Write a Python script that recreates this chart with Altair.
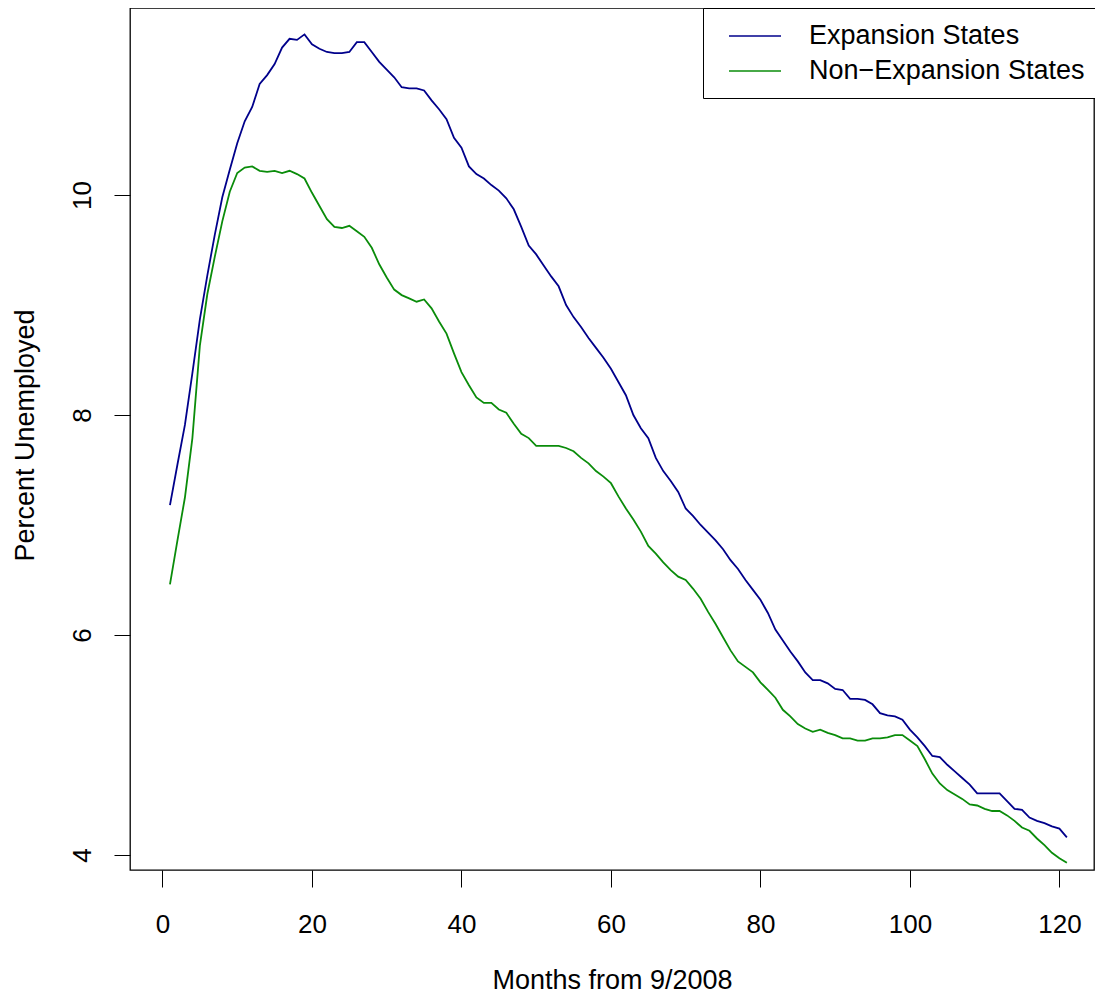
import altair as alt
import pandas as pd

months = list(range(1, 122))

expansion = [
    7.18, 7.55, 7.91, 8.38, 8.87, 9.27, 9.64, 9.98, 10.23, 10.47,
    10.67, 10.80, 11.01, 11.09, 11.19, 11.34, 11.42, 11.41, 11.46, 11.37,
    11.33, 11.30, 11.29, 11.29, 11.30, 11.39, 11.39, 11.30, 11.21, 11.14,
    11.07, 10.98, 10.97, 10.97, 10.95, 10.86, 10.78, 10.69, 10.52, 10.43,
    10.26, 10.19, 10.15, 10.09, 10.04, 9.97, 9.87, 9.71, 9.54, 9.46,
    9.36, 9.26, 9.17, 9.00, 8.89, 8.80, 8.70, 8.61, 8.52, 8.42,
    8.30, 8.18, 8.00, 7.88, 7.79, 7.61, 7.49, 7.40, 7.30, 7.15,
    7.08, 7.00, 6.93, 6.86, 6.78, 6.68, 6.60, 6.50, 6.41, 6.32,
    6.20, 6.05, 5.95, 5.85, 5.76, 5.66, 5.59, 5.59, 5.56, 5.51,
    5.50, 5.42, 5.42, 5.41, 5.37, 5.29, 5.27, 5.26, 5.23, 5.14,
    5.07, 4.99, 4.90, 4.89, 4.82, 4.76, 4.70, 4.64, 4.56, 4.56,
    4.56, 4.56, 4.49, 4.42, 4.41, 4.34, 4.31, 4.29, 4.26, 4.24,
    4.16,
]

non_expansion = [
    6.46, 6.86, 7.25, 7.79, 8.63, 9.10, 9.44, 9.76, 10.03, 10.20,
    10.25, 10.26, 10.22, 10.21, 10.22, 10.20, 10.22, 10.19, 10.15, 10.02,
    9.90, 9.78, 9.71, 9.70, 9.72, 9.67, 9.62, 9.52, 9.37, 9.25,
    9.14, 9.09, 9.06, 9.03, 9.05, 8.97, 8.85, 8.74, 8.56, 8.39,
    8.27, 8.16, 8.11, 8.11, 8.05, 8.02, 7.92, 7.83, 7.79, 7.72,
    7.72, 7.72, 7.72, 7.70, 7.67, 7.61, 7.56, 7.49, 7.44, 7.38,
    7.26, 7.15, 7.05, 6.94, 6.81, 6.74, 6.66, 6.59, 6.53, 6.50,
    6.42, 6.33, 6.21, 6.10, 5.98, 5.86, 5.76, 5.71, 5.66, 5.57,
    5.50, 5.43, 5.32, 5.26, 5.19, 5.15, 5.12, 5.14, 5.11, 5.09,
    5.06, 5.06, 5.04, 5.04, 5.06, 5.06, 5.07, 5.09, 5.09, 5.04,
    4.99, 4.87, 4.74, 4.65, 4.59, 4.55, 4.51, 4.46, 4.45, 4.42,
    4.40, 4.40, 4.36, 4.31, 4.25, 4.22, 4.15, 4.09, 4.02, 3.97,
    3.93,
]

series_names = ["Expansion States", "Non\u2212Expansion States"]
series_colors = ["#00008B", "#0A8C0A"]
x_ticks = [0, 20, 40, 60, 80, 100, 120]
y_ticks = [4, 6, 8, 10]

df = pd.concat([
    pd.DataFrame({"month": months, "rate": expansion, "series": series_names[0]}),
    pd.DataFrame({"month": months, "rate": non_expansion, "series": series_names[1]}),
], ignore_index=True)

FONT = "Liberation Sans"

chart = alt.Chart(df).mark_line(strokeWidth=1.8).encode(
    x=alt.X(
        "month:Q",
        scale=alt.Scale(domain=[-4.348, 124.63], nice=False, zero=False),
        axis=alt.Axis(
            values=x_ticks, title="Months from 9/2008", domain=False, grid=False,
            tickSize=17, tickColor="black", tickWidth=1,
            labelFontSize=26, labelFont=FONT, labelColor="black",
            labelBaseline="alphabetic", labelPadding=45, labelFlush=False,
            titleFontSize=27, titleFont=FONT, titleColor="black",
            titleFontWeight="normal", titleBaseline="alphabetic", titleY=118,
        ),
    ),
    y=alt.Y(
        "rate:Q",
        scale=alt.Scale(domain=[3.8636, 11.7], nice=False, zero=False),
        axis=alt.Axis(
            values=y_ticks, title="Percent Unemployed", domain=False, grid=False,
            tickSize=16, tickColor="black", tickWidth=1,
            labelFontSize=26, labelFont=FONT, labelColor="black",
            labelAngle=270, labelAlign="center", labelBaseline="alphabetic",
            labelPadding=24, labelFlush=False,
            titleFontSize=27, titleFont=FONT, titleColor="black",
            titleFontWeight="normal", titleAngle=270, titleAlign="center",
            titleBaseline="alphabetic", titleX=-97, titleY=427,
        ),
    ),
    color=alt.Color(
        "series:N",
        scale=alt.Scale(domain=series_names, range=series_colors),
        title=None,
        legend=alt.Legend(
            orient="none", legendX=573, legendY=0,
            symbolType="M-2,0H2", symbolSize=676, symbolStrokeWidth=1.5,
            labelFontSize=27, labelFont=FONT, labelColor="black",
            labelOffset=40, symbolOffset=24, padding=14,
            strokeColor="black", fillColor="white", rowPadding=8,
            labelLimit=400,
        ),
    ),
).properties(
    width=964,
    height=862,
    autosize=alt.AutoSizeParams(type="none"),
    padding={"left": 122, "top": 0, "right": 1, "bottom": 124},
).configure_view(
    stroke="black", strokeWidth=1.3
)

chart.save("out.html", embed_options={"renderer": "svg", "actions": False})
